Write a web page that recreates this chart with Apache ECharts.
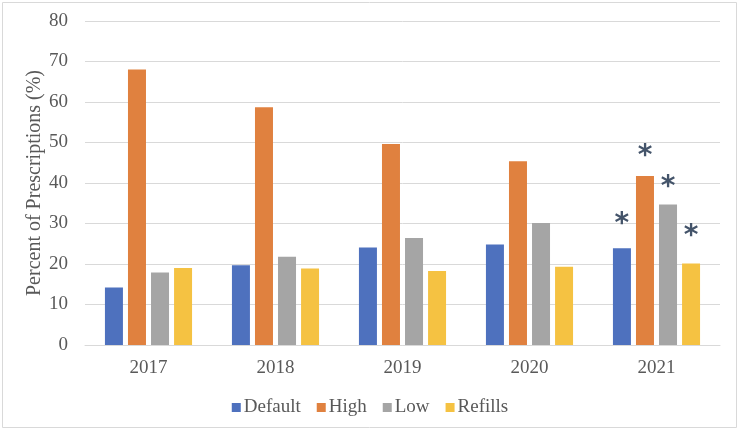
<!DOCTYPE html>
<html><head><meta charset="utf-8">
<script src="https://cdn.jsdelivr.net/npm/echarts@6/dist/echarts.min.js"></script>
<style>html,body{margin:0;padding:0;background:#fff}#c{width:740px;height:431px}</style>
</head><body><div id="c"></div>
<script>
const categories = ['2017','2018','2019','2020','2021'];
const seriesNames = ['Default','High','Low','Refills'];
const defaultVals = [14.2, 19.7, 24.1, 24.8, 23.9];
const highVals    = [68.0, 58.7, 49.6, 45.4, 41.7];
const lowVals     = [17.9, 21.8, 26.4, 30.1, 34.7];
const refillVals  = [19.0, 18.9, 18.3, 19.3, 20.1];
// asterisk (significance) levels, null where absent
const defaultSig = [null, null, null, null, 30.9];
const highSig    = [null, null, null, null, 47.7];
const lowSig     = [null, null, null, null, 40.1];
const refillSig  = [null, null, null, null, 27.9];
const yTicks = [0,10,20,30,40,50,60,70,80];

const colors = ['#4E71BE','#E0813F','#A5A5A5','#F5C242'];
const vals = [defaultVals, highVals, lowVals, refillVals];
const sigs = [defaultSig, highSig, lowSig, refillSig];
const serif = '"Liberation Serif", "Times New Roman", serif';

const series = [];
seriesNames.forEach((n, i) => {
  series.push({
    name: n, type: 'bar', stack: 's' + i, barWidth: 18, barGap: '28%',
    data: vals[i], itemStyle: {color: colors[i]}
  });
});
seriesNames.forEach((n, i) => {
  series.push({
    name: n + '_sig', type: 'bar', stack: 's' + i, barWidth: 18, barGap: '28%',
    data: sigs[i].map((s, k) => s == null ? null : {
      value: s - vals[i][k],
      label: {show: true}
    }),
    itemStyle: {color: 'rgba(0,0,0,0)'},
    label: {show: false, position: 'top', distance: -19, formatter: '*',
      color: '#44546A', fontSize: 28, fontWeight: 'bold', fontFamily: '"DejaVu Sans", sans-serif'},
    silent: true
  });
});

const chart = echarts.init(document.getElementById('c'), null, {renderer: 'canvas'});
chart.setOption({
  animation: false,
  grid: {left: 85, right: 20, top: 21, bottom: 86},
  graphic: [{type: 'rect', shape: {x: 2.5, y: 2.5, width: 734, height: 425},
    style: {fill: 'none', stroke: '#D9D9D9', lineWidth: 1}}],
  legend: {
    data: seriesNames, bottom: 9, left: 'center', icon: 'rect',
    itemWidth: 9, itemHeight: 9, itemGap: 16,
    textStyle: {fontFamily: serif, fontSize: 19, color: '#595959', padding: [0,0,0,-2]}
  },
  xAxis: {
    type: 'category', data: categories,
    axisLine: {lineStyle: {color: '#D9D9D9', width: 1}},
    axisTick: {show: false},
    axisLabel: {fontFamily: serif, fontSize: 19, color: '#595959', margin: 14}
  },
  yAxis: {
    type: 'value', min: yTicks[0], max: yTicks[yTicks.length-1], interval: 10,
    name: 'Percent of Prescriptions (%)', nameLocation: 'middle', nameGap: 40,
    nameMoveOverlap: false,
    nameTextStyle: {fontFamily: serif, fontSize: 20, color: '#595959'},
    axisLine: {show: false}, axisTick: {show: false},
    axisLabel: {fontFamily: serif, fontSize: 19, color: '#595959', margin: 17},
    splitLine: {lineStyle: {color: '#D9D9D9', width: 1}}
  },
  series: series
});
</script></body></html>
